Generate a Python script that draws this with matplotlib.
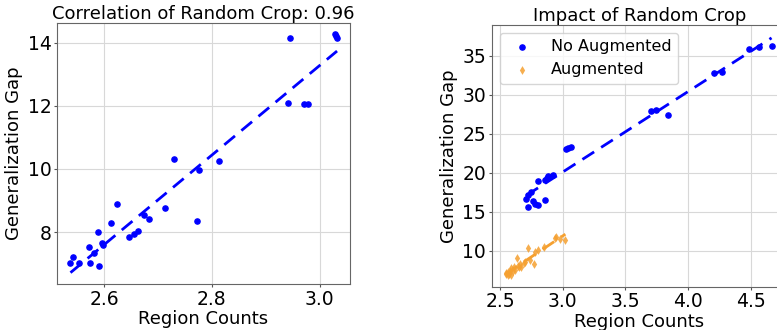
import numpy as np
import matplotlib
matplotlib.use('Agg')
import matplotlib.pyplot as plt

# left panel: random crop runs
crop_counts = [2.538, 2.542, 2.553, 2.572, 2.575, 2.582, 2.589, 2.591, 2.596, 2.598,
               2.613, 2.625, 2.646, 2.656, 2.663, 2.675, 2.683, 2.713, 2.729, 2.773,
               2.777, 2.813, 2.941, 2.944, 2.970, 2.978, 3.028, 3.030, 3.032]
crop_gaps = [7.02, 7.21, 7.03, 7.52, 7.02, 7.34, 7.99, 6.92, 7.66, 7.58,
             8.28, 8.88, 7.84, 7.94, 8.03, 8.55, 8.41, 8.75, 10.31, 8.34,
             9.98, 10.25, 12.09, 14.16, 12.06, 12.06, 14.27, 14.21, 14.15]

# right panel: without augmentation
noaug_counts = [2.710, 2.720, 2.725, 2.745, 2.764, 2.778, 2.799, 2.799, 2.857, 2.857,
                2.871, 2.883, 2.923, 3.029, 3.042, 3.063, 3.704, 3.744, 3.841,
                4.206, 4.268, 4.484, 4.563, 4.664]
noaug_gaps = [16.70, 17.13, 15.68, 17.50, 16.40, 16.05, 15.92, 18.90, 16.50, 19.05,
              19.34, 19.56, 19.69, 23.00, 23.20, 23.30, 27.96, 28.05, 27.45,
              32.75, 32.87, 35.82, 36.15, 36.24]

# right panel: with augmentation
aug_counts = [2.545, 2.550, 2.560, 2.565, 2.570, 2.580, 2.585, 2.590, 2.600, 2.610,
              2.620, 2.632, 2.640, 2.650, 2.660, 2.670, 2.690, 2.700, 2.725, 2.740,
              2.772, 2.783, 2.804, 2.850, 2.937, 2.950, 2.976, 3.021]
aug_gaps = [7.00, 7.20, 6.90, 7.30, 7.10, 7.50, 6.95, 7.80, 7.40, 8.00,
            7.60, 9.06, 8.10, 7.90, 8.30, 8.00, 8.50, 8.60, 10.34, 8.90,
            8.30, 9.91, 10.13, 10.50, 11.62, 11.83, 11.54, 11.41]

W, H = 777, 330
fig = plt.figure(figsize=(W / 100, H / 100), dpi=100)

def fit_line(ax, x, y, color):
    x = np.asarray(x)
    m, b = np.polyfit(x, y, 1)
    xs = np.array([x.min(), x.max()])
    ax.plot(xs, m * xs + b, '--', color=color, lw=2, dashes=(5, 3))

# left
ax1 = fig.add_axes([57 / W, 1 - 284 / H, (350 - 57) / W, (284 - 23) / H])
ax1.scatter(crop_counts, crop_gaps, s=14, color='blue', zorder=3)
fit_line(ax1, crop_counts, crop_gaps, 'blue')
ax1.set_xlim(2.513, 3.056)
ax1.set_ylim(6.36, 14.62)
ax1.set_xticks([2.6, 2.8, 3.0])
ax1.set_yticks([8, 10, 12, 14])
ax1.set_title('Correlation of Random Crop: 0.96', fontsize=13, pad=3)

# right
ax2 = fig.add_axes([491.7 / W, 1 - 286.7 / H, (787 - 491.7) / W, (286.7 - 25) / H])
ax2.scatter(noaug_counts, noaug_gaps, s=14, color='blue', zorder=3, label='No Augmented')
ax2.scatter(aug_counts, aug_gaps, s=20, color='#f5a030', marker='d', alpha=0.85,
            linewidths=0, zorder=3, label='Augmented')
fit_line(ax2, noaug_counts, noaug_gaps, 'blue')
fit_line(ax2, aug_counts, aug_gaps, '#f5a030')
ax2.set_xlim(2.434, 4.787)
ax2.set_ylim(5.43, 38.93)
ax2.set_xticks([2.5, 3.0, 3.5, 4.0, 4.5])
ax2.set_yticks([10, 15, 20, 25, 30, 35])
ax2.set_title('Impact of Random Crop', fontsize=13, pad=3)
ax2.legend(loc='upper left', fontsize=11.5)

for ax in (ax1, ax2):
    ax.grid(True, color='#d8d8d8', lw=0.8)
    ax.set_axisbelow(True)
    ax.tick_params(labelsize=13.5, length=2, pad=2, color='#555555')
    for sp in ax.spines.values():
        sp.set_color('#666666')
    ax.set_xlabel('Region Counts', fontsize=13, labelpad=1)
    ax.set_ylabel('Generalization Gap', fontsize=13, labelpad=3)

fig.savefig('out.png', dpi=100)
